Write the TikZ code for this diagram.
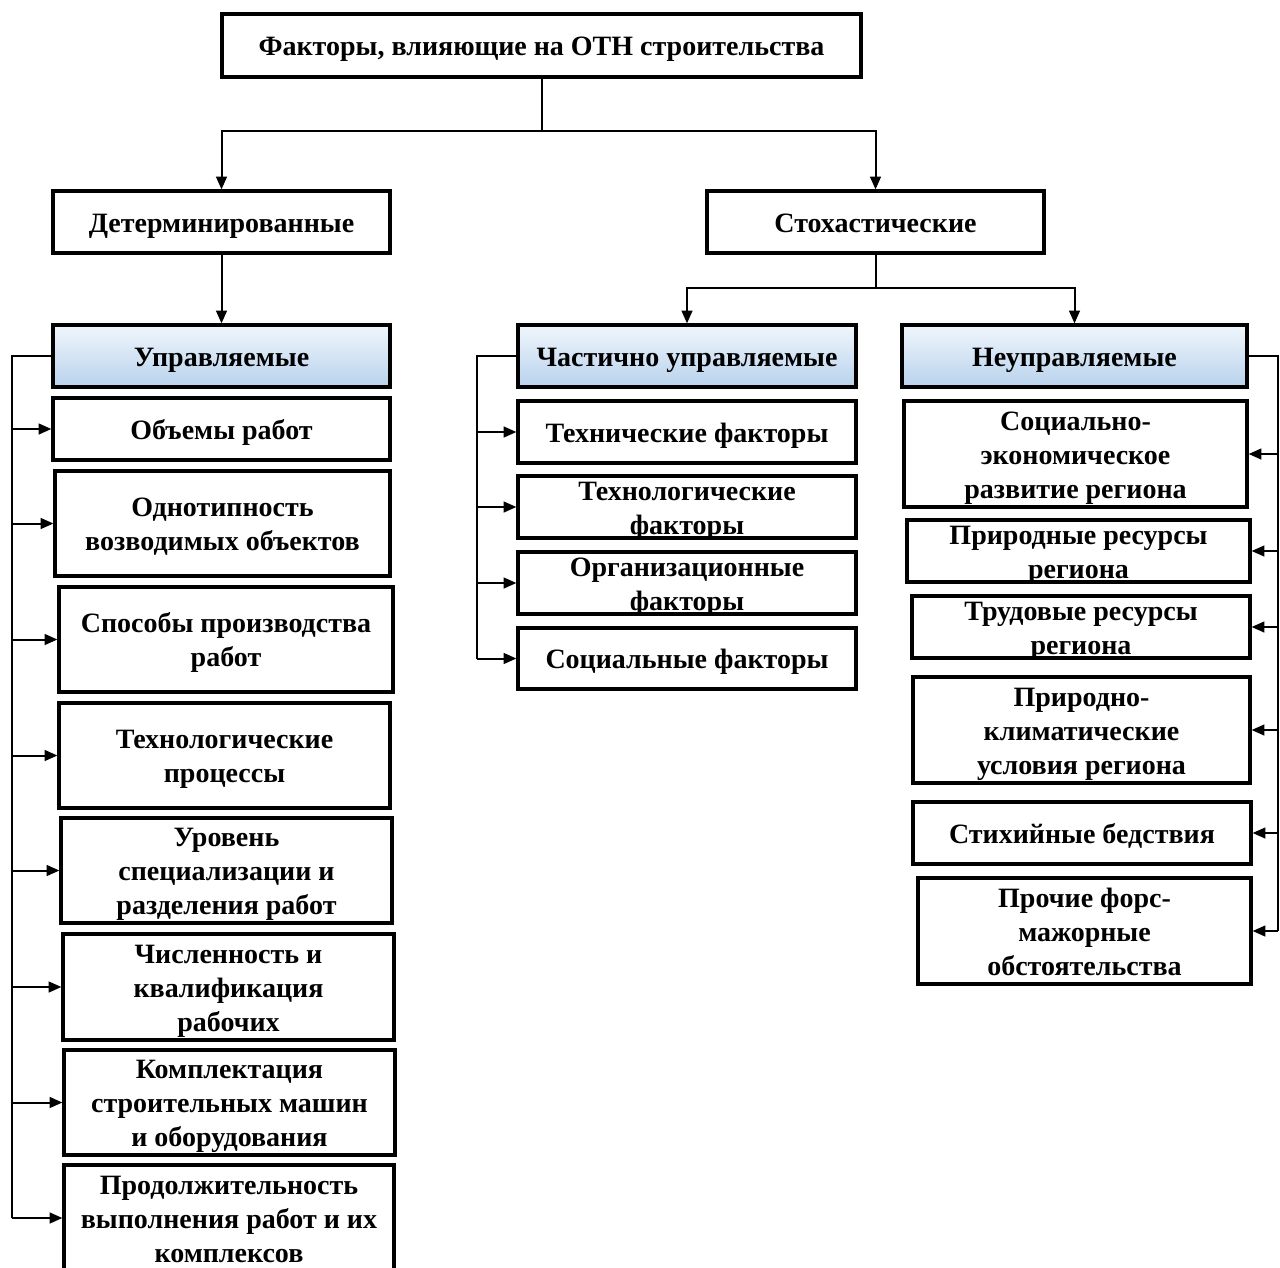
\documentclass[tikz,border=0pt]{standalone}
\usepackage{fontspec}
\setmainfont{Liberation Serif}
\usetikzlibrary{arrows.meta,shadings}
\definecolor{hdrbot}{RGB}{184,210,236}
\definecolor{hdrtop}{RGB}{240,246,252}
\newcommand{\lstrut}{\rule[-5.25pt]{0pt}{25.5pt}}
\tikzset{
  box/.style={draw, rectangle, line width=2.4pt, inner sep=0pt, fill=white},
  hdr/.style={box, top color=hdrtop, bottom color=hdrbot},
  lbl/.style={align=center, inner sep=0pt, font=\bfseries\fontsize{21}{25.5}\selectfont},
  conn/.style={line width=1.5pt},
  arr/.style={conn, -{Triangle[length=9.5pt,width=8pt]}}
}
\newcommand{\mybox}[7]{%
  \node[#6, minimum width={(#4-#2)*0.75pt}, minimum height={(#5-#3)*0.75pt}] (#1) at ({(#2+#4)/2},{(#3+#5)/2}) {};
  \node[lbl] at (#1.center) {\lstrut#7\lstrut};}
\begin{document}
\begin{tikzpicture}[x=0.75pt,y=-0.75pt]
\useasboundingbox[fill=white] (0,0) rectangle (1280,1267);
\mybox{top}{222}{14}{861}{77}{box}{Факторы, влияющие на ОТН строительства}
\mybox{det}{53}{191}{390}{253}{box}{Детерминированные}
\mybox{sto}{707}{191}{1044}{253}{box}{Стохастические}
\mybox{upr}{53}{325}{390}{387}{hdr}{Управляемые}
\mybox{chu}{518}{325}{856}{387}{hdr}{Частично управляемые}
\mybox{neu}{902}{325}{1247}{387}{hdr}{Неуправляемые}
\mybox{l1}{53}{398}{390}{460}{box}{Объемы работ}
\mybox{l2}{55}{471}{390}{576}{box}{Однотипность\\возводимых объектов}
\mybox{l3}{59}{587}{393}{692}{box}{Способы производства\\работ}
\mybox{l4}{59}{703}{390}{808}{box}{Технологические\\процессы}
\mybox{l5}{61}{818}{392}{923}{box}{Уровень\\специализации и\\разделения работ}
\mybox{l6}{63}{934}{394}{1040}{box}{Численность и\\квалификация\\рабочих}
\mybox{l7}{64}{1050}{395}{1155}{box}{Комплектация\\строительных машин\\и оборудования}
\mybox{l8}{64}{1165}{394}{1271}{box}{Продолжительность\\выполнения работ и их\\комплексов}
\mybox{m1}{518}{401}{856}{463}{box}{Технические факторы}
\mybox{m2}{518}{476}{856}{538}{box}{Технологические\\факторы}
\mybox{m3}{518}{552}{856}{614}{box}{Организационные\\факторы}
\mybox{m4}{518}{628}{856}{689}{box}{Социальные факторы}
\mybox{r1}{904}{401}{1247}{507}{box}{Социально-\\экономическое\\развитие региона}
\mybox{r2}{907}{520}{1250}{582}{box}{Природные ресурсы\\региона}
\mybox{r3}{912}{596}{1250}{658}{box}{Трудовые ресурсы\\региона}
\mybox{r4}{913}{677}{1250}{783}{box}{Природно-\\климатические\\условия региона}
\mybox{r5}{913}{802}{1251}{864}{box}{Стихийные бедствия}
\mybox{r6}{918}{878}{1251}{984}{box}{Прочие форс-\\мажорные\\обстоятельства}
% connectors
\coordinate (j1) at (541.5,131);
\draw[conn] (top.south) -- (j1);
\draw[arr] (j1) -| (det.north);
\draw[arr] (j1) -| (sto.north);
\draw[arr] (det.south) -- (upr.north);
\coordinate (j2) at (875.5,288);
\draw[conn] (sto.south) -- (j2);
\draw[arr] (j2) -| (chu.north);
\draw[arr] (j2) -| (neu.north);
\coordinate (bl) at (12,356);
\draw[conn] (upr.west) -- (bl) -- (bl |- l8.west);
\foreach \n in {l1,l2,l3,l4,l5,l6,l7,l8} \draw[arr] (bl |- \n.west) -- (\n.west);
\coordinate (bm) at (477,356);
\draw[conn] (chu.west) -- (bm) -- (bm |- m4.west);
\foreach \n in {m1,m2,m3,m4} \draw[arr] (bm |- \n.west) -- (\n.west);
\coordinate (br) at (1278,356);
\draw[conn] (neu.east) -- (br) -- (br |- r6.east);
\foreach \n in {r1,r2,r3,r4,r5,r6} \draw[arr] (br |- \n.east) -- (\n.east);
\end{tikzpicture}
\end{document}
